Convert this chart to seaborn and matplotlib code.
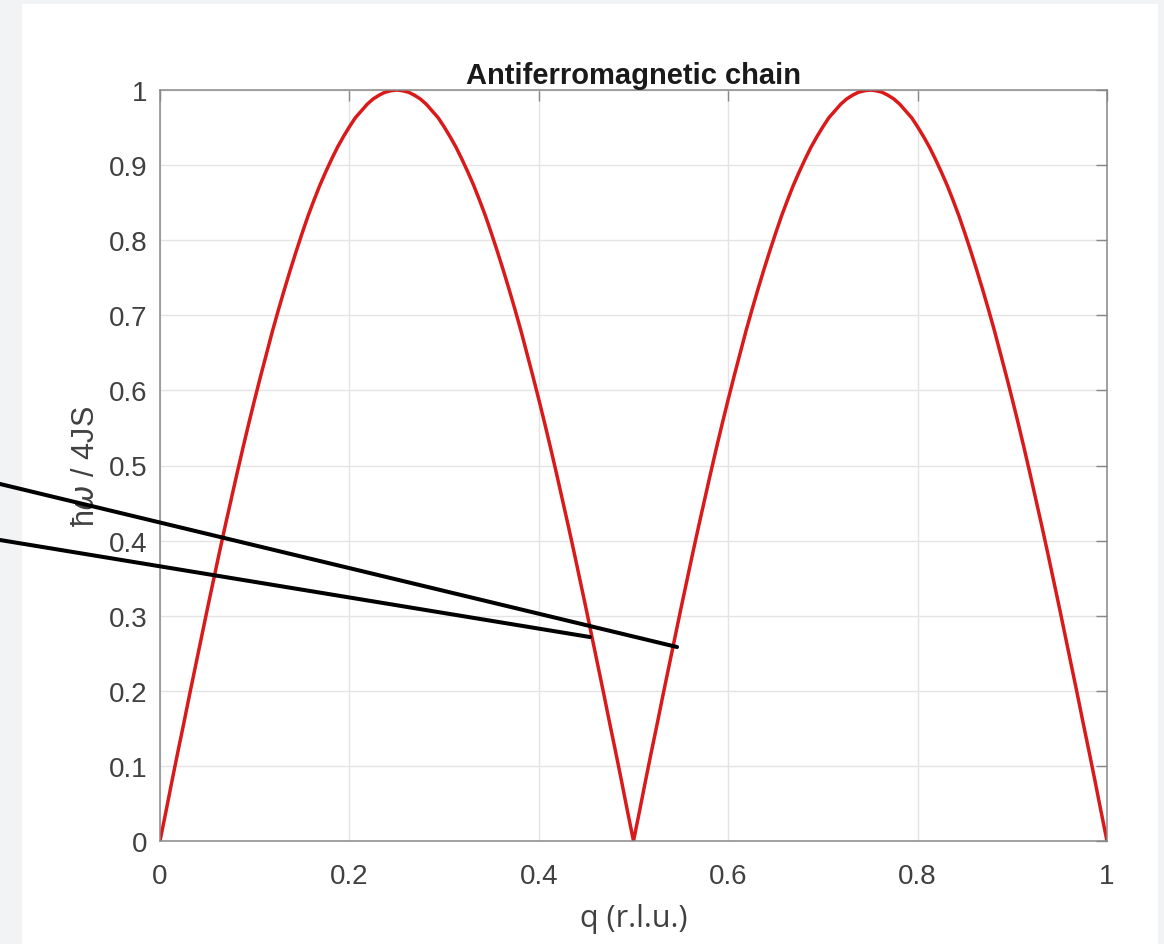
import numpy as np
import seaborn as sns
import matplotlib.pyplot as plt
from matplotlib.patches import Rectangle

# dispersion, q step 0.00625 (one quarter period, rising)
rise = [0, 0.039, 0.079, 0.118, 0.156, 0.195, 0.233, 0.271, 0.309, 0.346, 0.383,
        0.419, 0.454, 0.489, 0.523, 0.556, 0.588, 0.619, 0.649, 0.679, 0.707,
        0.734, 0.760, 0.785, 0.809, 0.832, 0.853, 0.873, 0.891, 0.908, 0.924,
        0.938, 0.951, 0.963, 0.972, 0.981, 0.988, 0.993, 0.997, 0.999, 1.0]
half = rise + rise[-2::-1]
energy = half + half[1:]
q = np.linspace(0, 1, len(energy))

x_ticks = [0, 0.2, 0.4, 0.6, 0.8, 1]
x_labels = ['0', '0.2', '0.4', '0.6', '0.8', '1']
y_ticks = [0, 0.1, 0.2, 0.3, 0.4, 0.5, 0.6, 0.7, 0.8, 0.9, 1]
y_labels = ['0', '0.1', '0.2', '0.3', '0.4', '0.5', '0.6', '0.7', '0.8', '0.9', '1']

# two black pointer lines (data coords, running off the left edge)
line_a_q = [-0.169, 0.546]
line_a_e = [0.4754, 0.2583]
line_b_q = [-0.169, 0.454]
line_b_e = [0.4008, 0.2716]

sns.set_style('white')
plt.rcParams['font.family'] = ['Liberation Sans', 'DejaVu Sans']

fig = plt.figure(figsize=(11.64, 9.45), dpi=100, facecolor='#f1f3f5')
fig.patches.append(Rectangle((22 / 1164, 0), (1158 - 22) / 1164, 1 - 5 / 945,
                             transform=fig.transFigure, facecolor='white',
                             edgecolor='none', zorder=-10))
ax = fig.add_axes([160 / 1164, 1 - 842 / 945, (1107 - 160) / 1164, (842 - 91) / 945])
ax.set_facecolor('white')

sns.lineplot(x=q, y=energy, ax=ax, color='#da1a1a', linewidth=2.5, sort=False)

ax.plot(line_a_q, line_a_e, color='black', linewidth=2.9, clip_on=False, zorder=5)
ax.plot(line_b_q, line_b_e, color='black', linewidth=2.9, clip_on=False, zorder=5)

ax.set_xlim(0, 1)
ax.set_ylim(0, 1)
ax.set_xticks(x_ticks)
ax.set_xticklabels(x_labels)
ax.set_yticks(y_ticks)
ax.set_yticklabels(y_labels)
ax.tick_params(direction='in', length=8, width=1, color='#888888',
               labelsize=20, labelcolor='#404040', top=True, right=True)
ax.tick_params(axis='x', pad=16)
ax.tick_params(axis='y', pad=9)
ax.grid(True, color='#e4e4e4', linewidth=1)
for s in ax.spines.values():
    s.set_color('#888888')
    s.set_linewidth(1.1)

ax.set_title('Antiferromagnetic chain', fontsize=21, fontweight='bold',
             color='#1a1a1a', pad=5)
ax.set_xlabel('q (r.l.u.)', fontsize=22, color='#404040', labelpad=10,
              family=['Open Sans', 'DejaVu Sans'])
ax.set_ylabel('ħ$\\omega$ / 4JS', fontsize=22, color='#404040', labelpad=6)

fig.savefig('out.png', dpi=100, facecolor=fig.get_facecolor())
